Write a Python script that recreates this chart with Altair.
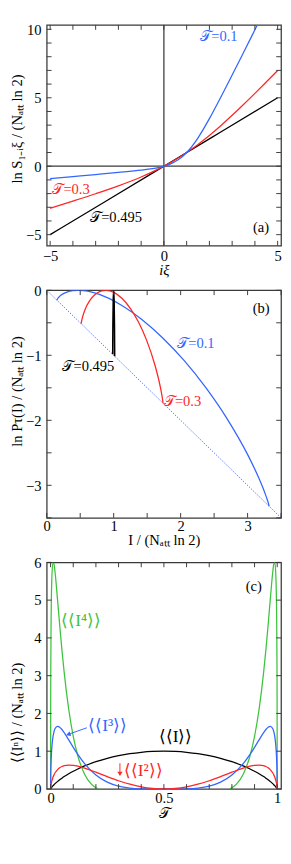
import altair as alt
import pandas as pd

# ---------------- panel (a): ln S_{1-i xi} / (N ln2) ----------------
xi_grid = [-5, -4, -3, -2, -1, -0.5, -0.25, 0, 0.25, 0.5, 0.75, 1, 1.25, 1.5, 1.75, 2, 2.5, 3, 3.5, 4, 4.5, 5]
lnS_T01 = [-0.912, -0.760, -0.608, -0.454, -0.286, -0.1755, -0.1003, 0, 0.1400, 0.3390, 0.6196, 1,
           1.4881, 2.0760, 2.7453, 3.4739, 5.0354, 6.6616, 8.3107, 9.9678, 11.6274, 13.2877]
lnS_T03 = [-3.0785, -2.5522, -2.0104, -1.4344, -0.7859, -0.4150, -0.2138, 0, 0.2270, 0.4692, 0.7266, 1,
           1.2895, 1.5949, 1.9157, 2.2515, 2.9623, 3.7172, 4.5062, 5.3202, 6.1519, 6.9957]
xi_T0495 = [-5, -2.5, 0, 2.5, 5]
lnS_T0495 = [-4.998, -2.4994, 0, 2.5003, 5.0014]

# ---------------- panel (b): ln P(I) / (N ln2) ----------------
I_T01 = [0.15200, 0.15834, 0.18370, 0.21540, 0.31050, 0.38974, 0.46900, 0.54824, 0.62749, 0.78599, 1.10298,
         1.41997, 1.73697, 2.05396, 2.37095, 2.68794, 3.00493, 3.16343, 3.25853, 3.29023, 3.31559, 3.32193]
lnP_T01 = [-0.15200, -0.13753, -0.10291, -0.07396, -0.02410, -0.00543, 0.0, -0.00468, -0.01765, -0.06406, -0.22169,
           -0.44902, -0.73697, -1.08301, -1.48966, -1.96601, -2.53593, -2.87703, -3.11709, -3.20944, -3.29478, -3.32193]
I_T03 = [0.51457, 0.51702, 0.52680, 0.53902, 0.57570, 0.63681, 0.69793, 0.75905, 0.82017, 0.88129, 0.94241,
         1.00353, 1.12577, 1.24801, 1.37025, 1.49249, 1.61473, 1.67585, 1.71253, 1.72474, 1.73452, 1.73697]
lnP_T03 = [-0.51457, -0.49621, -0.44601, -0.39758, -0.28930, -0.16781, -0.08809, -0.03712, -0.00889, 0.0, -0.00834,
           -0.03258, -0.12577, -0.27706, -0.48896, -0.77056, -1.14573, -1.38945, -1.57109, -1.64395, -1.71371, -1.73697]
I_T0495 = [0.98565, 0.98622, 0.98853, 0.99286, 1.00007, 1.00729, 1.01162, 1.01392, 1.01450]
lnP_T0495 = [-0.98565, -0.84478, -0.51953, -0.18158, -0.00007, -0.19601, -0.54262, -0.87248, -1.01450]
bound_I = [0.0, 3.5]
bound_lnP = [0.0, -3.5]

# ---------------- panel (c): cumulants ----------------
T_grid = [0, 0.0005, 0.001, 0.002, 0.005, 0.01, 0.015, 0.02, 0.03, 0.04, 0.05, 0.06, 0.08, 0.1, 0.12, 0.15,
          0.2, 0.25, 0.3, 0.35, 0.4, 0.45, 0.5,
          0.55, 0.6, 0.65, 0.7, 0.75, 0.8, 0.85, 0.88, 0.9, 0.92, 0.94, 0.95, 0.96, 0.97, 0.98, 0.985,
          0.99, 0.995, 0.998, 0.999, 0.9995, 1]
cum1 = [0, 0.0062, 0.0114, 0.0208, 0.0454, 0.0808, 0.1124, 0.1414, 0.1944, 0.2423, 0.2864, 0.3274, 0.4022,
        0.4690, 0.5294, 0.6098, 0.7219, 0.8113, 0.8813, 0.9341, 0.9710, 0.9928, 1.0,
        0.9928, 0.9710, 0.9341, 0.8813, 0.8113, 0.7219, 0.6098, 0.5294, 0.4690, 0.4022, 0.3274, 0.2864,
        0.2423, 0.1944, 0.1414, 0.1124, 0.0808, 0.0454, 0.0208, 0.0114, 0.0062, 0]
cum2 = [0, 0.0416, 0.0688, 0.1111, 0.2011, 0.3016, 0.3733, 0.4283, 0.5073, 0.5595, 0.5941, 0.6160, 0.6334,
        0.6268, 0.6048, 0.5535, 0.4436, 0.3265, 0.2175, 0.1258, 0.0569, 0.0144, 0,
        0.0144, 0.0569, 0.1258, 0.2175, 0.3265, 0.4436, 0.5535, 0.6048, 0.6268, 0.6334, 0.6160, 0.5941,
        0.5595, 0.5073, 0.4283, 0.3733, 0.3016, 0.2011, 0.1111, 0.0688, 0.0416, 0]
cum3 = [0, 0.3162, 0.4739, 0.6877, 1.0539, 1.3581, 1.5151, 1.6002, 1.6576, 1.6360, 1.5744, 1.4916, 1.2994,
        1.1019, 0.9158, 0.6720, 0.3690, 0.1793, 0.0737, 0.0234, 0.0046, 0.0003, 0,
        0.0003, 0.0046, 0.0234, 0.0737, 0.1793, 0.3690, 0.6720, 0.9158, 1.1019, 1.2994, 1.4916, 1.5744,
        1.6360, 1.6576, 1.6002, 1.5151, 1.3581, 1.0539, 0.6877, 0.4739, 0.3162, 0]
T_c4_lo = [0, 0.0005, 0.001, 0.002, 0.005, 0.01, 0.015, 0.02, 0.03, 0.04, 0.05, 0.06, 0.08, 0.1, 0.12,
           0.15, 0.18, 0.2, 0.2113]
cum4_lo = [0, 2.3987, 3.2601, 4.2384, 5.4666, 5.9897, 5.9568, 5.7242, 5.0595, 4.3493, 3.6829, 3.0857,
           2.1098, 1.3921, 0.8797, 0.3913, 0.1288, 0.0341, 0]
T_c4_hi = [0.7887, 0.8, 0.82, 0.85, 0.88, 0.9, 0.92, 0.94, 0.95, 0.96, 0.97, 0.98, 0.985, 0.99, 0.995,
           0.998, 0.999, 0.9995, 1]
cum4_hi = [0, 0.0341, 0.1288, 0.3913, 0.8797, 1.3921, 2.1098, 3.0857, 3.6829, 4.3493, 5.0595, 5.7242,
           5.9568, 5.9897, 5.4666, 4.2384, 3.2601, 2.3987, 0]

# annotations (data units)
notes_a = [(1.60, 9.5, "𝒯=0.1", "blue", "left", 15), (-4.90, -1.64, "𝒯=0.3", "red", "left", 15),
           (-3.24, -3.69, "𝒯=0.495", "black", "left", 15), (4.62, -4.44, "(a)", "black", "right", 15)]
notes_b = [(3.33, -0.27, "(b)", "black", "right", 15), (1.95, -0.81, "𝒯=0.1", "blue", "left", 15),
           (0.235, -1.17, "𝒯=0.495", "black", "left", 15), (1.75, -1.71, "𝒯=0.3", "red", "left", 15)]
notes_c = [(0.932, 5.36, "(c)", "black", "right", 15), (0.047, 4.44, "⟨⟨I⁴⟩⟩", "green", "left", 18),
           (0.166, 1.66, "⟨⟨I³⟩⟩", "blue", "left", 18), (0.477, 1.36, "⟨⟨I⟩⟩", "black", "left", 18),
           (0.323, 0.47, "⟨⟨I²⟩⟩", "red", "left", 18)]
arrow_blue = ([0.160, 0.078], [1.62, 1.445])
arrow_red = ([0.306, 0.306], [0.68, 0.40])

# ---------------- styling ----------------
FONT = "Liberation Serif"
COL = {"blue": "#3366ff", "red": "#ff2626", "green": "#3cc43c", "black": "#000000"}
FRAME = "#3a3a3a"
W = 242
TL = 5


def sc(dom):
    return alt.Scale(domain=dom, nice=False, zero=False)


def axis_x(title, vals, lp, tp, italic=False):
    kw = dict(title=title, values=vals, format="~r", labelPadding=lp, titlePadding=tp, labelFlush=False)
    if italic:
        kw["titleFontStyle"] = "italic"
    return alt.Axis(**kw)


def axis_y(title, vals, ty):
    return alt.Axis(title=title, values=vals, format="~r", labelPadding=6, labelFlush=False,
                    titleX=-31.5, titleY=ty, titleBaseline="middle", titleAlign="center")


class Panel:
    def __init__(self, xdom, ydom, xaxis, yaxis):
        self.xs = sc(xdom)
        self.ys = sc(ydom)
        self.xa = xaxis
        self.ya = yaxis

    def X(self, f="x:Q"):
        return alt.X(f, scale=self.xs, axis=self.xa)

    def Y(self, f="y:Q"):
        return alt.Y(f, scale=self.ys, axis=self.ya)

    def line(self, xs, ys, color, width=1.3, dash=None):
        df = pd.DataFrame({"x": xs, "y": ys})
        kw = dict(clip=True, strokeWidth=width, color=color)
        if dash:
            kw["strokeDash"] = dash
        else:
            kw["interpolate"] = "monotone"
        return alt.Chart(df).mark_line(**kw).encode(x=self.X(), y=self.Y())

    def ticks(self, xt, yt, H):
        dx = pd.DataFrame({"x": xt})
        dy = pd.DataFrame({"y": yt})
        kw = dict(color=FRAME, strokeWidth=1)
        return [
            alt.Chart(dx).mark_rule(**kw).encode(x=self.X(), y=alt.value(H), y2=alt.value(H - TL)),
            alt.Chart(dx).mark_rule(**kw).encode(x=self.X(), y=alt.value(0), y2=alt.value(TL)),
            alt.Chart(dy).mark_rule(**kw).encode(y=self.Y(), x=alt.value(0), x2=alt.value(TL)),
            alt.Chart(dy).mark_rule(**kw).encode(y=self.Y(), x=alt.value(W), x2=alt.value(W - TL)),
        ]

    def notes(self, items):
        out = []
        for x, y, t, c, al, size in items:
            df = pd.DataFrame({"x": [x], "y": [y], "t": [t]})
            out.append(alt.Chart(df).mark_text(align=al, baseline="middle", font=FONT, fontSize=size,
                                               color=COL[c]).encode(x=self.X(), y=self.Y(), text="t:N"))
        return out

    def arrow(self, xy, color, shape, angle=0):
        df = pd.DataFrame({"x": [xy[0][0]], "y": [xy[1][0]], "x2": [xy[0][1]], "y2": [xy[1][1]]})
        r = alt.Chart(df).mark_rule(color=color, strokeWidth=1).encode(x=self.X(), y=self.Y(), x2="x2:Q", y2="y2:Q")
        dt = pd.DataFrame({"x": [xy[0][1]], "y": [xy[1][1]]})
        kw = dict(shape=shape, filled=True, size=28, color=color, opacity=1)
        if angle:
            kw["angle"] = angle
        t = alt.Chart(dt).mark_point(**kw).encode(x=self.X(), y=self.Y())
        return [r, t]


# ---------------- panel (a) ----------------
H_A = 228
A = Panel([-5.15, 5.15], [-5.81, 10.32],
          axis_x("iξ", [-5, 0, 5], 3, 0, italic=True),
          axis_y("ln S₁₋ᵢξ / (Nₐₜₜ ln 2)", [-5, 0, 5, 10], 107))
zx = alt.Chart(pd.DataFrame({"x": [0]})).mark_rule(color=FRAME, strokeWidth=1.3).encode(x=A.X())
zy = alt.Chart(pd.DataFrame({"y": [0]})).mark_rule(color=FRAME, strokeWidth=1.3).encode(y=A.Y())
pa = alt.layer(
    zx, zy,
    A.line(xi_T0495, lnS_T0495, COL["black"]),
    A.line(xi_grid, lnS_T03, COL["red"]),
    A.line(xi_grid, lnS_T01, COL["blue"]),
    *A.ticks(list(range(-5, 6)), list(range(-5, 11)), H_A),
    *A.notes(notes_a),
).properties(width=W, height=H_A)

# ---------------- panel (b) ----------------
H_B = 235
B = Panel([0, 3.5], [-3.5, 0],
          axis_x("I / (Nₐₜₜ ln 2)", [0, 1, 2, 3], 1, 0),
          axis_y("ln Pτ(I) / (Nₐₜₜ ln 2)", [0, -1, -2, -3], 104))
pb = alt.layer(
    B.line(bound_I, bound_lnP, COL["blue"], width=1, dash=[1.2, 1.6]),
    B.line(I_T01, lnP_T01, COL["blue"]),
    B.line(I_T03, lnP_T03, COL["red"]),
    B.line(I_T0495, lnP_T0495, COL["black"], width=1.6),
    *B.ticks([0, 0.5, 1, 1.5, 2, 2.5, 3, 3.5], [0, -0.5, -1, -1.5, -2, -2.5, -3, -3.5], H_B),
    *B.notes(notes_b),
).properties(width=W, height=H_B)

# ---------------- panel (c) ----------------
H_C = 234
C = Panel([-0.017, 1.017], [0, 6],
          axis_x("𝒯", [0, 0.5, 1], 2, 0),
          axis_y("⟨⟨Iⁿ⟩⟩ / (Nₐₜₜ ln 2)", [0, 1, 2, 3, 4, 5, 6], 155))
pc = alt.layer(
    C.line(T_grid, cum1, COL["black"]),
    C.line(T_c4_lo, cum4_lo, COL["green"]),
    C.line(T_c4_hi, cum4_hi, COL["green"]),
    C.line(T_grid, cum3, COL["blue"]),
    C.line(T_grid, cum2, COL["red"]),
    *C.arrow(arrow_blue, COL["blue"], "triangle-up", 250),
    *C.arrow(arrow_red, COL["red"], "triangle-down"),
    *C.ticks([0, 0.1, 0.2, 0.3, 0.4, 0.5, 0.6, 0.7, 0.8, 0.9, 1.0], [0, 1, 2, 3, 4, 5, 6], H_C),
    *C.notes(notes_c),
).properties(width=W, height=H_C)

chart = alt.vconcat(pa, pb, pc, spacing=46, bounds="flush").properties(
    padding={"top": 0, "left": 0, "right": 0, "bottom": 0}
).configure_view(
    stroke=FRAME, strokeWidth=1.3
).configure_axis(
    labelFont=FONT, titleFont=FONT, labelFontSize=15, titleFontSize=15, labelColor="#000",
    titleColor="#000", titleFontWeight="normal", grid=False, domain=False, ticks=False, tickSize=0
)

chart.save("out.html", embed_options={"renderer": "svg", "actions": False})
